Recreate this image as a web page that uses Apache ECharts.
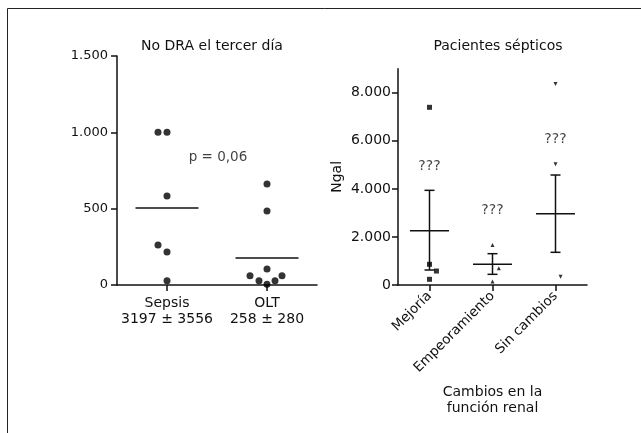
<!DOCTYPE html>
<html>
<head>
<meta charset="utf-8">
<script src="https://cdn.jsdelivr.net/npm/echarts@6/dist/echarts.min.js"></script>
<style>
  html, body { margin: 0; padding: 0; background: #fff; }
  #chart { width: 641px; height: 433px; }
</style>
</head>
<body>
<div id="chart"></div>
<script>
// panel izquierdo: No DRA el tercer día
const leftGroups = ['Sepsis', 'OLT']
const leftStats = ['3197 ± 3556', '258 ± 280']
const sepsisValues = [1000, 1000, 583, 262, 216, 28]
const sepsisX = [0.41, 0.5, 0.5, 0.41, 0.5, 0.5]
const oltValues = [661, 485, 105, 61, 61, 28, 28, 5]
const oltX = [1.5, 1.5, 1.5, 1.33, 1.65, 1.42, 1.58, 1.5]
const leftMeans = [504, 177]
const leftTicks = [0, 500, 1000, 1500]
const pText = 'p = 0,06'

// panel derecho: Pacientes sépticos
const rightCategories = ['Mejoría', 'Empeoramiento', 'Sin cambios']
const mejoriaValues = [7393, 861, 582, 237]
const mejoriaX = [0.5, 0.5, 0.61, 0.5]
const empeoramientoValues = [1664, 694, 150]
const empeoramientoX = [1.5, 1.6, 1.5]
const sinCambiosValues = [8362, 5020, 345]
const sinCambiosX = [2.5, 2.5, 2.58]
const rightMeans = [2259, 861, 2966]
const rightLower = [624, 444, 1360]
const rightUpper = [3939, 1303, 4576]
const questionY = [4950, 3120, 6070]
const rightTicks = [0, 2000, 4000, 6000, 8000]

const FONT = 'DejaVu Sans'
const INK = '#111'

const fmt = (v) => String(v).replace(/\B(?=(\d{3})+(?!\d))/g, '.')
const pair = (xs, ys) => ys.map((y, i) => [xs[i], y])

const chart = echarts.init(document.getElementById('chart'))

const axisLine = { show: true, lineStyle: { color: INK, width: 1.5 } }
const axisTick = { show: true, inside: false, length: 6, lineStyle: { color: INK, width: 1.5 } }

const option = {
  animation: false,
  textStyle: { fontFamily: FONT, color: INK },
  title: [
    { text: 'No DRA el tercer día', left: 207, top: 34, textAlign: 'center',
      textStyle: { fontFamily: FONT, fontSize: 14, fontWeight: 'normal', color: INK } },
    { text: 'Pacientes sépticos', left: 493, top: 34, textAlign: 'center',
      textStyle: { fontFamily: FONT, fontSize: 14, fontWeight: 'normal', color: INK } }
  ],
  graphic: [
    { type: 'rect', shape: { x: 7.5, y: 8.5, width: 700, height: 500 },
      style: { fill: 'none', stroke: '#222', lineWidth: 1 } }
  ],
  grid: [
    { left: 117, top: 56, width: 200, height: 229 },
    { left: 398, top: 68.7, width: 189, height: 216.3 }
  ],
  xAxis: [
    {
      type: 'category', gridIndex: 0,
      data: leftGroups.map((g, i) => g + '\n' + leftStats[i]),
      axisLine, axisTick: { ...axisTick, alignWithLabel: true },
      axisLabel: { interval: 0, hideOverlap: false, fontFamily: FONT, fontSize: 14, color: INK,
        margin: 10, lineHeight: 16 }
    },
    { type: 'value', gridIndex: 0, min: 0, max: 2, show: false },
    {
      type: 'category', gridIndex: 1, data: rightCategories,
      axisLine, axisTick: { ...axisTick, alignWithLabel: true },
      axisLabel: { interval: 0, fontFamily: FONT, fontSize: 13.5, color: INK, rotate: 45, margin: 9 },
      name: 'Cambios en la\nfunción renal', nameLocation: 'middle', nameGap: 99,
      nameTextStyle: { fontFamily: FONT, fontSize: 14, color: INK, lineHeight: 16 }
    },
    { type: 'value', gridIndex: 1, min: 0, max: 3, show: false }
  ],
  yAxis: [
    {
      type: 'value', gridIndex: 0, min: 0, max: 1500, interval: 500,
      axisLine, axisTick: { ...axisTick, customValues: leftTicks },
      splitLine: { show: false },
      axisLabel: { fontFamily: FONT, fontSize: 13, color: INK, margin: 9,
        customValues: leftTicks, formatter: fmt }
    },
    {
      type: 'value', gridIndex: 1, min: 0, max: 9000,
      axisLine,
      axisTick: { ...axisTick, customValues: rightTicks },
      splitLine: { show: false },
      axisLabel: { fontFamily: FONT, fontSize: 14, color: INK, margin: 7,
        customValues: rightTicks, formatter: fmt },
      name: 'Ngal', nameLocation: 'middle', nameGap: 54, nameRotate: 90,
      nameTextStyle: { fontFamily: FONT, fontSize: 14, color: INK }
    }
  ],
  series: [
    // puntos panel izquierdo
    { type: 'scatter', xAxisIndex: 1, yAxisIndex: 0, symbol: 'circle', symbolSize: 7,
      itemStyle: { color: '#000' }, data: pair(sepsisX, sepsisValues) },
    { type: 'scatter', xAxisIndex: 1, yAxisIndex: 0, symbol: 'circle', symbolSize: 7,
      itemStyle: { color: '#000' }, data: pair(oltX, oltValues) },
    // medias panel izquierdo
    {
      type: 'custom', xAxisIndex: 1, yAxisIndex: 0,
      data: leftMeans.map((m, i) => [i + 0.5, m]),
      renderItem(params, api) {
        const p = api.coord([api.value(0), api.value(1)])
        return { type: 'line', shape: { x1: p[0] - 31.5, y1: p[1], x2: p[0] + 31.5, y2: p[1] },
          style: { stroke: INK, lineWidth: 1.5 } }
      }
    },
    // texto p
    { type: 'scatter', xAxisIndex: 1, yAxisIndex: 0, symbolSize: 0, data: [[1.01, 838]],
      label: { show: true, position: 'inside', formatter: pText,
        fontFamily: FONT, fontSize: 13.5, color: INK } },
    // puntos panel derecho
    { type: 'scatter', xAxisIndex: 3, yAxisIndex: 1, symbol: 'rect', symbolSize: 5,
      itemStyle: { color: '#000' }, data: pair(mejoriaX, mejoriaValues) },
    { type: 'scatter', xAxisIndex: 3, yAxisIndex: 1, symbol: 'triangle', symbolSize: 4,
      itemStyle: { color: '#000' }, data: pair(empeoramientoX, empeoramientoValues) },
    { type: 'scatter', xAxisIndex: 3, yAxisIndex: 1, symbol: 'triangle', symbolSize: 4, symbolRotate: 180,
      itemStyle: { color: '#000' }, data: pair(sinCambiosX, sinCambiosValues) },
    // media ± error panel derecho
    {
      type: 'custom', xAxisIndex: 3, yAxisIndex: 1,
      data: rightMeans.map((m, i) => [i + 0.5, m, rightLower[i], rightUpper[i]]),
      renderItem(params, api) {
        const x = api.value(0)
        const pm = api.coord([x, api.value(1)])
        const pl = api.coord([x, api.value(2)])
        const pu = api.coord([x, api.value(3)])
        const st = { stroke: INK, lineWidth: 1.5 }
        return {
          type: 'group',
          children: [
            { type: 'line', shape: { x1: pm[0] - 19.5, y1: pm[1], x2: pm[0] + 19.5, y2: pm[1] }, style: st },
            { type: 'line', shape: { x1: pl[0], y1: pl[1], x2: pu[0], y2: pu[1] }, style: st },
            { type: 'line', shape: { x1: pu[0] - 5, y1: pu[1], x2: pu[0] + 5, y2: pu[1] }, style: st },
            { type: 'line', shape: { x1: pl[0] - 5, y1: pl[1], x2: pl[0] + 5, y2: pl[1] }, style: st }
          ]
        }
      }
    },
    // etiquetas ???
    { type: 'scatter', xAxisIndex: 3, yAxisIndex: 1, symbolSize: 0,
      data: questionY.map((y, i) => [i + 0.5, y]),
      label: { show: true, position: 'inside', formatter: '???',
        fontFamily: FONT, fontSize: 14, color: INK } }
  ]
}

chart.setOption(option)
</script>
</body>
</html>
